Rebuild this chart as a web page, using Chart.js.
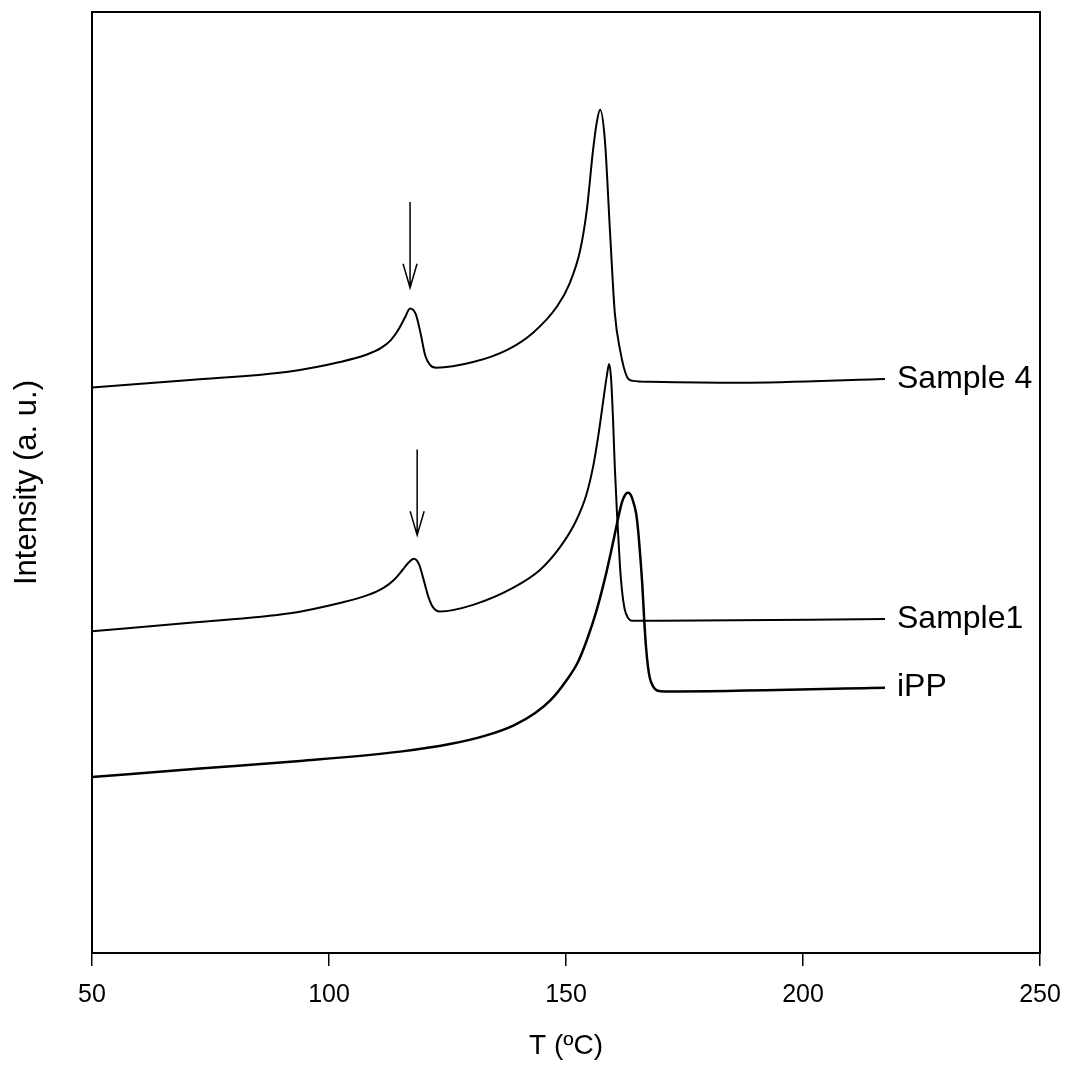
<!DOCTYPE html>
<html>
<head>
<meta charset="utf-8">
<script src="https://cdn.jsdelivr.net/npm/chart.js@4"></script>
<style>
  body { margin: 0; background: #fff; }
  #wrap { width: 1067px; height: 1074px; }
</style>
</head>
<body>
<div id="wrap"><canvas id="myChart"></canvas></div>
<script>
// DSC traces, temperature (C) vs intensity (a.u., 0-100)
const tSample4 = [50, 70.7, 91.8, 102.3, 108.0, 111.0, 113.0, 114.6, 116.0, 117.1, 118.3, 119.3, 120.3, 121.3, 122.6,
    130.4, 137.6, 143.0, 148.1, 150.8, 153.0, 154.4, 155.7, 156.5, 157.2,
    158.2, 159.3, 160.3, 161.4, 162.9, 164.1, 167.7, 186.7, 217.3];
const ySample4 = [60.1, 60.9, 61.8, 62.8, 63.6, 64.3, 65.1, 66.2, 67.5, 68.5, 67.9, 65.9, 63.5, 62.5, 62.2,
    62.8, 64.1, 65.9, 68.7, 71.2, 74.7, 79.0, 85.3, 88.3, 89.6,
    86.4, 76.5, 68.0, 64.1, 61.2, 60.8, 60.7, 60.6, 61.0];

const tSample1 = [50, 70.7, 91.8, 102.3, 108.0, 111.5, 113.8, 115.5, 116.8, 117.9, 119.0, 120.0, 121.0, 122.0, 123.4,
    130.4, 138.8, 144.5, 148.7, 152.0, 154.3, 155.8, 157.0, 158.0, 158.6, 159.1,
    159.5, 159.9, 160.3, 160.8, 161.4, 161.8, 162.4, 163.1, 163.9, 169.8, 217.3];
const ySample1 = [34.2, 35.1, 36.1, 37.2, 38.0, 38.8, 39.7, 40.7, 41.5, 41.9, 41.3, 39.6, 37.8, 36.7, 36.3,
    37.0, 38.8, 40.7, 43.1, 45.8, 48.7, 51.9, 55.6, 59.2, 61.3, 62.6,
    61.1, 57.0, 51.6, 46.3, 41.0, 38.6, 36.5, 35.6, 35.3, 35.3, 35.5];

const tIPP = [50, 72.8, 93.9, 115.0, 125.5, 133.0, 139.0, 143.5, 147.0, 150.0, 152.5, 154.5, 156.5, 158.5,
    160.0, 161.0, 161.8, 162.5, 163.0, 163.5, 164.1, 164.8, 165.2, 165.6, 166.1, 166.5, 166.9,
    167.3, 167.7, 168.4, 169.2, 170.9, 217.3];
const yIPP = [18.7, 19.6, 20.4, 21.4, 22.2, 23.1, 24.2, 25.5, 27.0, 28.9, 30.9, 33.4, 36.5, 40.4,
    43.8, 46.2, 47.9, 48.7, 48.9, 48.8, 48.1, 46.7, 45.0, 42.6, 39.1, 35.4, 32.4,
    30.4, 29.2, 28.3, 27.9, 27.8, 28.2];

const seriesNames = ['Sample 4', 'Sample1', 'iPP'];
const xTicks = [50, 100, 150, 200, 250];

// arrows marking the small peaks
const arrowT = [117.1, 118.6];
const arrowFrom = [79.8, 53.5];
const arrowTo = [70.7, 44.4];

function toPoints(xs, ys) {
    return xs.map((x, i) => ({ x: x, y: ys[i] }));
}

const FONT = '"Liberation Sans", Arial, sans-serif';

// frame, arrows and end labels
const extras = {
    id: 'extras',
    afterDatasetsDraw(chart) {
        const ctx = chart.ctx;
        const { left, right, top, bottom } = chart.chartArea;
        const xs = chart.scales.x, ys = chart.scales.y;
        ctx.save();
        ctx.strokeStyle = '#000';
        ctx.lineWidth = 2;
        ctx.strokeRect(left, top, right - left, bottom - top);

        ctx.lineWidth = 1.5;
        arrowT.forEach((t, i) => {
            const x = xs.getPixelForValue(t);
            const y1 = ys.getPixelForValue(arrowFrom[i]);
            const y2 = ys.getPixelForValue(arrowTo[i]);
            ctx.beginPath();
            ctx.moveTo(x, y1);
            ctx.lineTo(x, y2);
            ctx.moveTo(x - 7, y2 - 24);
            ctx.lineTo(x, y2);
            ctx.lineTo(x + 7, y2 - 24);
            ctx.stroke();
        });

        ctx.fillStyle = '#000';
        ctx.font = '32px ' + FONT;
        ctx.textBaseline = 'middle';
        chart.data.datasets.forEach((ds, i) => {
            const pts = chart.getDatasetMeta(i).data;
            const last = pts[pts.length - 1];
            ctx.fillText(ds.label, last.x + 12, last.y);
        });
        ctx.restore();
    }
};

const config = {
    type: 'line',
    data: {
        datasets: [
            { label: seriesNames[0], data: toPoints(tSample4, ySample4), borderColor: '#000', borderWidth: 2 },
            { label: seriesNames[1], data: toPoints(tSample1, ySample1), borderColor: '#000', borderWidth: 2 },
            { label: seriesNames[2], data: toPoints(tIPP, yIPP), borderColor: '#000', borderWidth: 2.5 }
        ]
    },
    options: {
        responsive: true,
        maintainAspectRatio: false,
        animation: false,
        layout: { padding: { left: 0, right: 27, top: 12, bottom: 0 } },
        datasets: {
            line: {
                pointRadius: 0,
                cubicInterpolationMode: 'monotone',
                fill: false
            }
        },
        plugins: {
            legend: { display: false },
            tooltip: { enabled: false }
        },
        scales: {
            x: {
                type: 'linear',
                min: 50,
                max: 250,
                afterFit: function(scale) {
                    scale.height = 121;
                    scale.paddingLeft = 0;
                    scale.paddingRight = 0;
                },
                afterBuildTicks: function(scale) {
                    scale.ticks = xTicks.map(v => ({ value: v }));
                },
                border: { display: false },
                grid: {
                    drawOnChartArea: false,
                    drawTicks: true,
                    tickLength: 13,
                    color: '#000',
                    lineWidth: 1.5
                },
                ticks: {
                    color: '#000',
                    padding: 14,
                    maxRotation: 0,
                    font: { family: FONT, size: 25 }
                },
                title: {
                    display: true,
                    text: 'T (ºC)',
                    color: '#000',
                    font: { family: FONT, size: 28 },
                    padding: { top: 0, bottom: 11 }
                }
            },
            y: {
                min: 0,
                max: 100,
                afterFit: function(scale) {
                    scale.width = 92;
                    scale.paddingTop = 0;
                    scale.paddingBottom = 0;
                },
                border: { display: false },
                grid: { display: false, drawTicks: false },
                ticks: { display: false },
                title: {
                    display: true,
                    text: 'Intensity (a. u.)',
                    color: '#000',
                    font: { family: FONT, size: 31 },
                    padding: { top: 9, bottom: 0 }
                }
            }
        }
    },
    plugins: [extras]
};

new Chart(document.getElementById('myChart'), config);
</script>
</body>
</html>
